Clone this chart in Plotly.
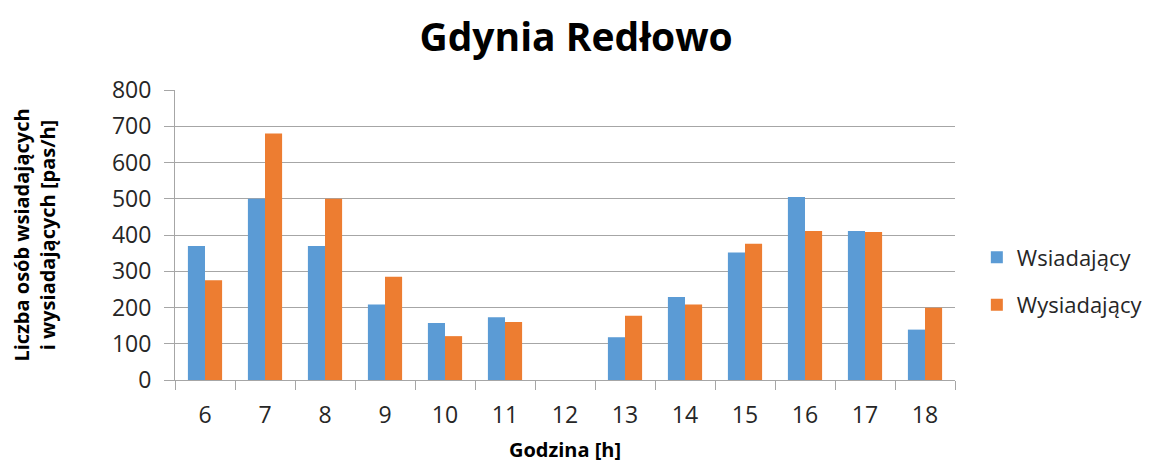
import plotly.graph_objects as go

hours = ["6", "7", "8", "9", "10", "11", "12", "13", "14", "15", "16", "17", "18"]
wsiadajacy = [370, 500, 370, 208, 157, 173, 0, 118, 229, 352, 505, 411, 139]
wysiadajacy = [275, 680, 500, 285, 121, 160, 0, 177, 208, 376, 411, 408, 199]

FONT = "Open Sans"
GRID = "#a6a6a6"

fig = go.Figure()
fig.add_trace(go.Bar(x=hours, y=wsiadajacy, name="Wsiadający",
                     marker=dict(color="#5B9BD5", line=dict(width=0)),
                     legendgroup="a"))
fig.add_trace(go.Bar(x=hours, y=wysiadajacy, name="Wysiadający",
                     marker=dict(color="#ED7D31", line=dict(width=0)),
                     legendgroup="b"))

fig.update_layout(
    width=1157, height=466,
    margin=dict(l=167, r=210, t=82, b=94, autoexpand=False),
    paper_bgcolor="white", plot_bgcolor="white",
    font=dict(family=FONT, color="#262626"),
    title=dict(text="<b>Gdynia Redłowo</b>", x=0.491, xanchor="center",
               y=0.937, yanchor="middle",
               font=dict(family=FONT, size=39, color="#000000")),
    barmode="group", bargap=0.43, bargroupgap=0,
    legend=dict(x=1.028, y=0.34, xanchor="left", yanchor="middle",
                font=dict(family=FONT, size=22, color="#262626"),
                traceorder="grouped", tracegroupgap=16,
                itemwidth=30),
    showlegend=True,
)
fig.update_xaxes(
    type="category",
    showline=True, linecolor=GRID, linewidth=1,
    ticks="outside", tickson="boundaries", ticklen=9, tickcolor=GRID,
    tickfont=dict(family=FONT, size=23, color="#262626"),
    ticklabelstandoff=14,
    showgrid=False,
    title=dict(text="<b>Godzina [h]</b>", font=dict(family=FONT, size=20, color="#000000"),
               standoff=14),
)
fig.update_yaxes(
    range=[0, 800], dtick=100,
    showline=True, linecolor=GRID, linewidth=1,
    ticks="outside", ticklen=10, tickcolor=GRID,
    ticklabelstandoff=8,
    showgrid=True, gridcolor=GRID, gridwidth=1,
    zeroline=False,
    tickfont=dict(family=FONT, size=23, color="#262626"),
    title=dict(text="<b>Liczba osób wsiadających<br>i wysiadających [pas/h]</b>",
               font=dict(family=FONT, size=20, color="#000000"), standoff=52),
)

fig.write_html("out.html")
